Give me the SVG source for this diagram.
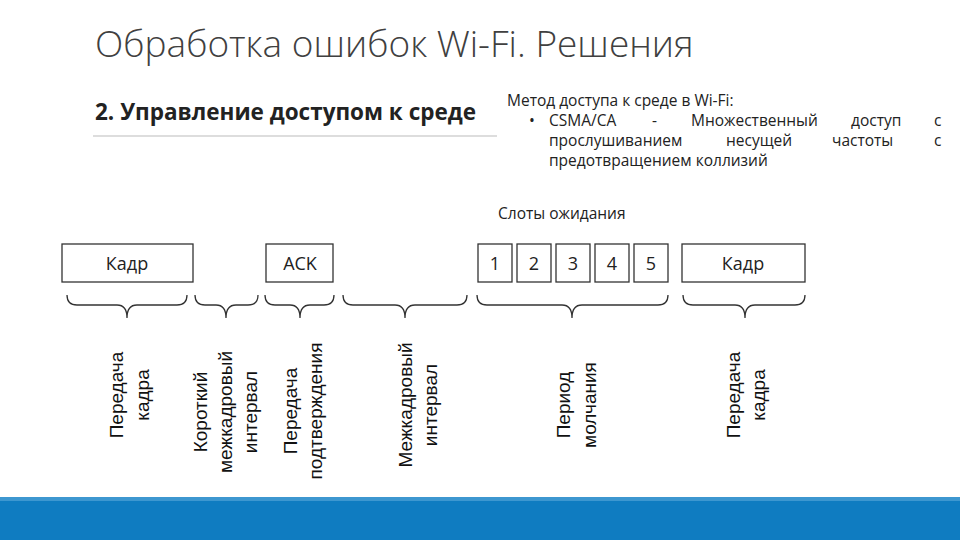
<svg xmlns="http://www.w3.org/2000/svg" width="960" height="540" viewBox="0 0 960 540">
<style>
.b{fill:#fff;stroke:#333;stroke-width:1.3}
.bt{font-family:"Open Sans",sans-serif;font-size:18px;fill:#222;text-anchor:middle}
.br{fill:none;stroke:#333;stroke-width:1.3}
.v{font-family:"Liberation Sans",Arial,sans-serif;font-size:19px;fill:#111;text-anchor:middle}
.r{font-family:"Open Sans",sans-serif;font-size:15.5px;fill:#222}
</style>
<rect width="960" height="540" fill="#fff"/>
<text x="95" y="57" font-family="Open Sans,sans-serif" font-weight="300" font-size="37" fill="#404040">Обработка ошибок Wi-Fi. Решения</text>
<text x="95" y="120" font-family="Open Sans,sans-serif" font-weight="bold" font-size="22.5" fill="#222">2. Управление доступом к среде</text>
<line x1="93" y1="136" x2="497" y2="136" stroke="#bbb" stroke-width="1"/>
<text class="r" x="507" y="106" font-size="18">Метод доступа к среде в Wi-Fi:</text>
<text class="r" x="529" y="126">•</text>
<text class="r" x="549" y="126">CSMA/CA</text>
<text class="r" x="652" y="126">-</text>
<text class="r" x="691" y="126">Множественный</text>
<text class="r" x="851" y="126">доступ</text>
<text class="r" x="934" y="126">с</text>
<text class="r" x="549" y="146">прослушиванием</text>
<text class="r" x="726" y="146">несущей</text>
<text class="r" x="832" y="146">частоты</text>
<text class="r" x="934" y="146">с</text>
<text class="r" x="549" y="166">предотвращением коллизий</text>
<text class="r" x="498" y="219" font-size="19.5">Слоты ожидания</text>
<g id="frame1"><rect class="b" x="62" y="244" width="131" height="38"/><text class="bt" x="127" y="270">Кадр</text></g>
<g id="ack"><rect class="b" x="266" y="244" width="67" height="38"/><text class="bt" x="300" y="270">ACK</text></g>
<g id="s1"><rect class="b" x="478" y="244" width="34" height="38"/><text class="bt" x="495" y="270">1</text></g>
<g id="s2"><rect class="b" x="517" y="244" width="34" height="38"/><text class="bt" x="534" y="270">2</text></g>
<g id="s3"><rect class="b" x="556" y="244" width="34" height="38"/><text class="bt" x="573" y="270">3</text></g>
<g id="s4"><rect class="b" x="595" y="244" width="34" height="38"/><text class="bt" x="612" y="270">4</text></g>
<g id="s5"><rect class="b" x="634" y="244" width="34" height="38"/><text class="bt" x="651" y="270">5</text></g>
<g id="frame2"><rect class="b" x="682" y="244" width="123" height="38"/><text class="bt" x="743" y="270">Кадр</text></g>
<g id="connectors">
<path class="br" d="M67,295 Q67,305 77,305 H117 Q127,305 127,318 Q127,305 137,305 H177 Q187,305 187,295"/>
<path class="br" d="M195,295 Q195,305 205,305 H216 Q226,305 226,318 Q226,305 236,305 H248 Q258,305 258,295"/>
<path class="br" d="M265,295 Q265,305 275,305 H290 Q300,305 300,318 Q300,305 310,305 H324 Q334,305 334,295"/>
<path class="br" d="M343,295 Q343,305 353,305 H395 Q405,305 405,318 Q405,305 415,305 H457 Q467,305 467,295"/>
<path class="br" d="M477,295 Q477,305 487,305 H562 Q572,305 572,318 Q572,305 582,305 H658 Q668,305 668,295"/>
<path class="br" d="M683,295 Q683,305 693,305 H735 Q745,305 745,318 Q745,305 755,305 H795 Q805,305 805,295"/>
</g>
<g id="labels">
<g transform="translate(130,395) rotate(-90)"><text class="v" y="-7">Передача</text><text class="v" y="19">кадра</text></g>
<g transform="translate(225,412) rotate(-90)"><text class="v" y="-18">Короткий</text><text class="v" y="7">межкадровый</text><text class="v" y="32">интервал</text></g>
<g transform="translate(303,411) rotate(-90)"><text class="v" y="-6">Передача</text><text class="v" y="19">подтверждения</text></g>
<g transform="translate(418,405) rotate(-90)"><text class="v" y="-6">Межкадровый</text><text class="v" y="19">интервал</text></g>
<g transform="translate(577,405) rotate(-90)"><text class="v" y="-7">Период</text><text class="v" y="19">молчания</text></g>
<g transform="translate(746,395) rotate(-90)"><text class="v" y="-6">Передача</text><text class="v" y="19">кадра</text></g>
</g>
<rect x="0" y="497" width="960" height="43" fill="#0f7cc1"/>
<rect x="0" y="497" width="960" height="4" fill="#3d97d0"/>
</svg>
